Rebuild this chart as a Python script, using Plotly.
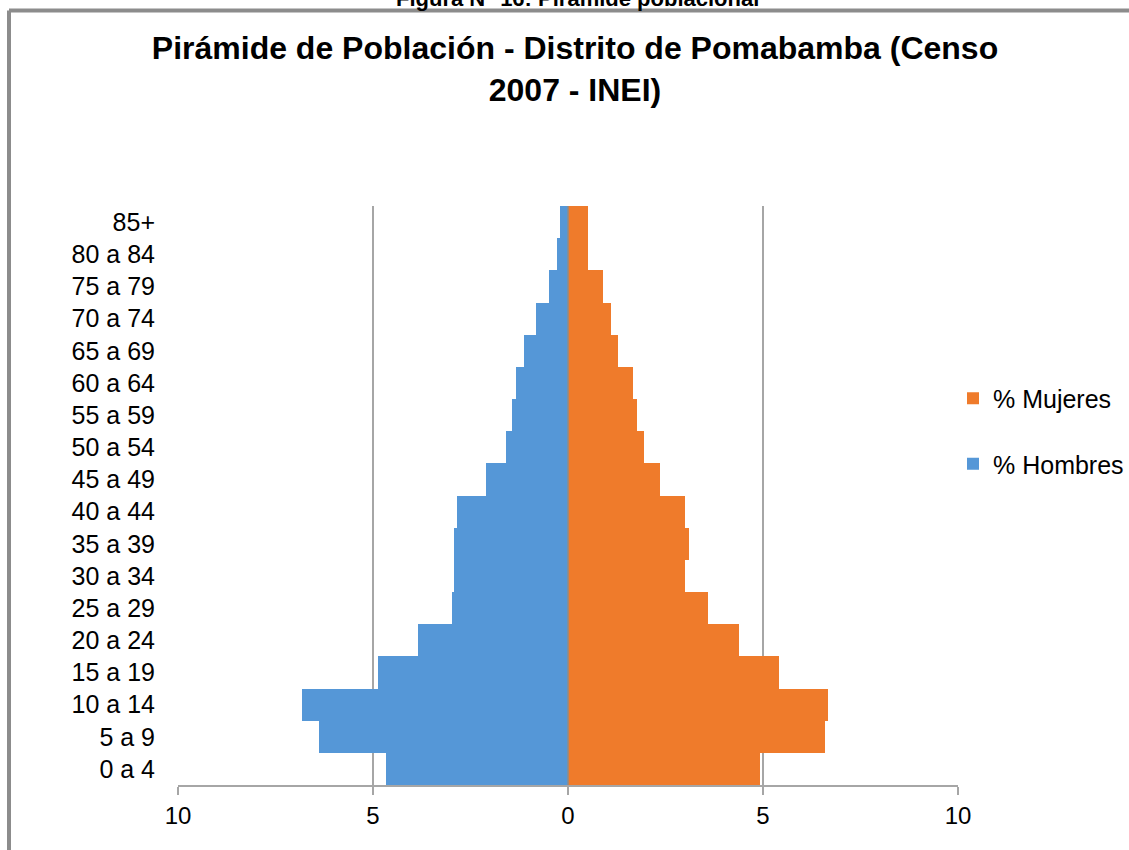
import plotly.graph_objects as go

grupos = ["0 a 4", "5 a 9", "10 a 14", "15 a 19", "20 a 24", "25 a 29", "30 a 34",
          "35 a 39", "40 a 44", "45 a 49", "50 a 54", "55 a 59", "60 a 64",
          "65 a 69", "70 a 74", "75 a 79", "80 a 84", "85+"]
hombres = [4.67, 6.38, 6.82, 4.87, 3.85, 2.98, 2.93, 2.93, 2.85, 2.11, 1.59, 1.44,
           1.34, 1.13, 0.83, 0.49, 0.29, 0.21]
mujeres = [4.93, 6.60, 6.67, 5.42, 4.39, 3.60, 3.01, 3.09, 2.99, 2.35, 1.94, 1.76,
           1.66, 1.27, 1.09, 0.89, 0.50, 0.50]
tick_vals = [-10, -5, 0, 5, 10]
tick_text = ["10", "5", "0", "5", "10"]

W, H = 1129, 850
L, R, T, B = 178, 958, 206, 785

def px(x):
    return (x - L) / (R - L)

def py(y):
    return (B - y) / (B - T)

FONT = "Liberation Sans, Arial, sans-serif"
GRID = "#a6a6a6"

fig = go.Figure()
fig.add_trace(go.Bar(
    y=grupos, x=mujeres, orientation="h", name="% Mujeres",
    marker=dict(color="#ef7b2b", line=dict(width=0)), legendgroup="m",
))
fig.add_trace(go.Bar(
    y=grupos, x=[-v for v in hombres], orientation="h", name="% Hombres",
    marker=dict(color="#5597d7", line=dict(width=0)), legendgroup="h",
))

fig.update_layout(
    width=W, height=H,
    margin=dict(l=L, r=W - R, t=T, b=H - B, autoexpand=False),
    paper_bgcolor="white", plot_bgcolor="white",
    barmode="relative", bargap=0,
    font=dict(family=FONT, size=22, color="#000000"),
    title=dict(
        text="<b>Pirámide de Población - Distrito de Pomabamba (Censo<br>2007 - INEI)</b>",
        x=575 / W, xanchor="center", y=1 - 59 / H, yanchor="middle",
        font=dict(family=FONT, size=32, color="#000000"),
    ),
    xaxis=dict(
        range=[-10, 10], tickvals=tick_vals, ticktext=tick_text,
        showgrid=True, gridcolor=GRID, gridwidth=1.5,
        zeroline=False,
        showline=True, linecolor=GRID, linewidth=1.5,
        ticks="outside", ticklen=8, tickcolor=GRID, tickwidth=1.5,
        tickfont=dict(family=FONT, size=24, color="#000000"),
        fixedrange=True,
    ),
    yaxis=dict(
        type="category", range=[-0.5, len(grupos) - 0.5],
        showgrid=False, zeroline=False, showline=False,
        ticks="", ticklabelstandoff=22,
        tickfont=dict(family=FONT, size=25, color="#000000"),
        fixedrange=True,
    ),
    legend=dict(
        x=px(953), xanchor="left", y=py(431), yanchor="middle",
        traceorder="grouped", tracegroupgap=30,
        font=dict(family=FONT, size=25, color="#000000"),
        bgcolor="rgba(0,0,0,0)", itemwidth=30,
    ),
    showlegend=True,
)

# zero line drawn above the bars
fig.add_shape(type="line", xref="x", yref="paper", x0=0, x1=0, y0=0, y1=1,
              line=dict(color="#8c8c8c", width=1.5), layer="above")

# outer frame (document border)
fig.add_shape(type="line", xref="paper", yref="paper",
              x0=px(9), x1=px(W + 5), y0=py(10.5), y1=py(10.5),
              line=dict(color="#8c8c8c", width=4), layer="above")
fig.add_shape(type="line", xref="paper", yref="paper",
              x0=px(9), x1=px(9), y0=py(10.5), y1=py(H + 5),
              line=dict(color="#8c8c8c", width=4), layer="above")

# partially hidden caption at the top
fig.add_annotation(
    text="<b>Figura N° 16: Pirámide poblacional</b>",
    xref="paper", yref="paper", x=px(577), y=py(-2),
    xanchor="center", yanchor="middle", showarrow=False,
    font=dict(family=FONT, size=22, color="#000000"),
)

fig.write_html(
    "out.html",
    config={"displayModeBar": False},
    post_script="document.body.style.margin='0';document.body.style.padding='0';",
)
